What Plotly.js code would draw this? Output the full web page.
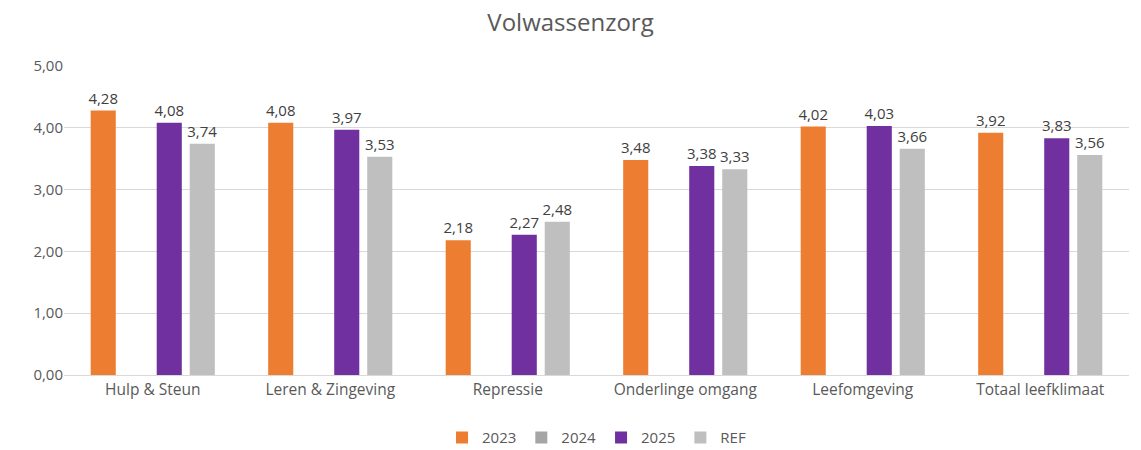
<!DOCTYPE html>
<html>
<head>
<meta charset="utf-8">
<script src="https://cdn.plot.ly/plotly-3.0.1.min.js"></script>
<style>html,body{margin:0;padding:0;background:#fff;}#chart{width:1141px;height:450px;}</style>
</head>
<body>
<div id="chart"></div>
<script>
const categories = ["Hulp & Steun", "Leren & Zingeving", "Repressie", "Onderlinge omgang", "Leefomgeving", "Totaal leefklimaat"];
const values2023 = [4.28, 4.08, 2.18, 3.48, 4.02, 3.92];
const values2024 = [null, null, null, null, null, null];
const values2025 = [4.08, 3.97, 2.27, 3.38, 4.03, 3.83];
const valuesREF = [3.74, 3.53, 2.48, 3.33, 3.66, 3.56];

const font = "'Open Sans', 'Noto Sans', sans-serif";
function series(name, y, color) {
  return {
    type: 'bar', name: name, x: categories, y: y,
    marker: {color: color},
    texttemplate: '%{y:.2f}', textposition: 'outside', cliponaxis: false,
    constraintext: 'none',
    textfont: {family: font, size: 15, color: '#404040'},
    hoverinfo: 'skip'
  };
}
const data = [
  series('2023', values2023, '#ed7d31'),
  series('2024', values2024, '#a5a5a5'),
  series('2025', values2025, '#7030a0'),
  series('REF', valuesREF, '#bfbfbf')
];
const layout = {
  width: 1141, height: 450,
  margin: {l: 64, r: 12, t: 66, b: 75, autoexpand: false},
  separators: ',.',
  paper_bgcolor: '#fff', plot_bgcolor: '#fff',
  font: {family: font, color: '#595959', size: 15},
  title: {text: 'Volwassenzorg', x: 0.5, xanchor: 'center', y: 0.95, yanchor: 'middle', font: {family: font, size: 24, color: '#595959'}},
  barmode: 'group', bargap: 0.256, bargroupgap: 0.24,
  xaxis: {showgrid: false, showline: true, linecolor: '#d9d9d9', linewidth: 1, ticks: '', tickfont: {size: 15.5, color: '#595959'}},
  yaxis: {range: [0, 5], dtick: 1, tickformat: '.2f', showgrid: true, gridcolor: '#d9d9d9', gridwidth: 1, zeroline: false, showline: false, ticks: '', ticklen: 0, tickfont: {size: 15, color: '#595959'}},
  showlegend: true,
  legend: {orientation: 'h', x: 0.5, xanchor: 'center', yref: 'container', y: 0.027, yanchor: 'middle', font: {size: 15, color: '#595959'}, itemwidth: 30, traceorder: 'normal'}
};
Plotly.newPlot('chart', data, layout, {displayModeBar: false, staticPlot: true});
</script>
</body>
</html>
